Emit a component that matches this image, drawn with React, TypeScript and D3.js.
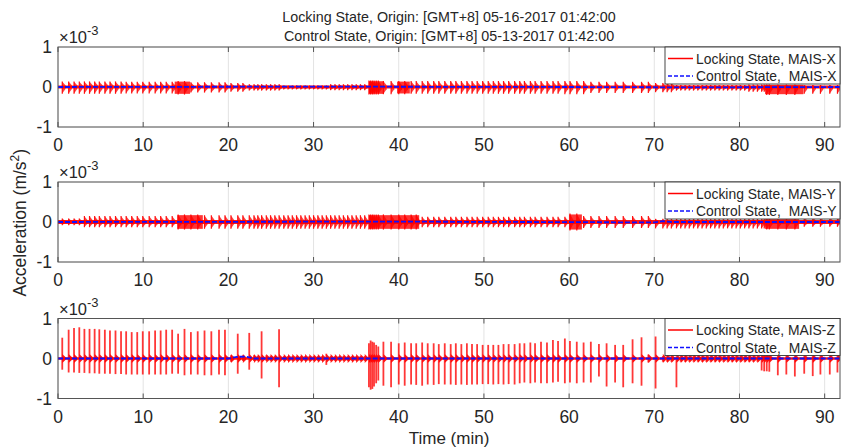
import React from "react";
import * as d3 from "d3";

// ---------------- data (units: 1e-3 m/s^2, time in minutes) ----------------
const titleLines = [
  "Locking State, Origin: [GMT+8] 05-16-2017 01:42:00",
  "Control State, Origin: [GMT+8] 05-13-2017 01:42:00",
];
const axisNames = ["X", "Y", "Z"];
const xTicks = [0, 10, 20, 30, 40, 50, 60, 70, 80, 90];
const yTicks = [-1, 0, 1];
const xMax = 91.8;

// impact events: [time, MAIS-Z peak up, MAIS-Z peak down]
const impacts: [number, number, number][] = [
  [0.5, 0.52, -0.28], [1.25, 0.72, -0.35], [1.88, 0.76, -0.35], [2.5, 0.78, -0.36],
  [3.1, 0.74, -0.36], [3.7, 0.74, -0.37], [4.3, 0.74, -0.37], [4.85, 0.73, -0.38],
  [5.5, 0.72, -0.38], [6.1, 0.7, -0.38], [6.75, 0.7, -0.39], [7.4, 0.68, -0.39],
  [8.0, 0.68, -0.4], [8.65, 0.66, -0.4], [9.3, 0.66, -0.4], [9.95, 0.68, -0.4],
  [10.7, 0.68, -0.4], [11.4, 0.7, -0.4], [12.05, 0.7, -0.4], [12.7, 0.72, -0.4],
  [13.4, 0.72, -0.38], [14.1, 0.62, -0.38], [14.85, 0.74, -0.42], [15.6, 0.66, -0.4],
  [16.4, 0.68, -0.4], [17.2, 0.7, -0.42], [18.0, 0.68, -0.42], [18.9, 0.72, -0.4],
  [19.6, 0.72, -0.42], [20.3, 0.08, -0.08], [21.1, 0.62, -0.38], [21.7, 0.08, -0.06],
  [22.45, 0.64, -0.28], [23.0, 0.08, -0.06], [23.45, 0.07, -0.06], [23.9, 0.68, -0.5],
  [24.45, 0.08, -0.06], [24.95, 0.07, -0.06], [25.45, 0.07, -0.06], [25.95, 0.73, -0.72],
  [26.5, 0.06, -0.06], [27.0, 0.06, -0.06], [27.5, 0.06, -0.06], [28.0, 0.06, -0.06],
  [28.5, 0.06, -0.06], [29.0, 0.06, -0.06], [29.5, 0.06, -0.06], [30.0, 0.06, -0.06],
  [30.5, 0.06, -0.06], [31.0, 0.06, -0.06], [31.5, 0.12, -0.16], [32.0, 0.06, -0.06],
  [32.5, 0.06, -0.06], [33.0, 0.06, -0.06], [33.5, 0.06, -0.06], [34.0, 0.06, -0.06],
  [34.5, 0.06, -0.06], [35.0, 0.06, -0.06], [35.5, 0.06, -0.06], [36.0, 0.06, -0.06],
  [36.5, 0.38, -0.72], [36.7, 0.45, -0.78], [36.9, 0.42, -0.76], [37.1, 0.4, -0.7],
  [37.35, 0.34, -0.62], [37.6, 0.3, -0.55],
  [38.2, 0.42, -0.68], [39.1, 0.42, -0.72], [40.0, 0.38, -0.65], [40.7, 0.4, -0.68],
  [41.45, 0.38, -0.65], [42.05, 0.38, -0.66], [42.75, 0.4, -0.68], [43.4, 0.38, -0.65],
  [44.1, 0.38, -0.66], [44.7, 0.36, -0.64], [45.4, 0.38, -0.65], [46.1, 0.36, -0.65],
  [46.7, 0.38, -0.66], [47.35, 0.36, -0.65], [48.0, 0.38, -0.66], [48.6, 0.36, -0.65],
  [49.2, 0.36, -0.65], [49.85, 0.34, -0.64], [50.5, 0.34, -0.64], [51.1, 0.34, -0.65],
  [51.7, 0.34, -0.64], [52.3, 0.36, -0.65], [52.9, 0.36, -0.64], [53.6, 0.36, -0.65],
  [54.2, 0.38, -0.62], [54.75, 0.38, -0.6], [55.45, 0.4, -0.62], [56.0, 0.38, -0.6],
  [56.7, 0.42, -0.62], [57.4, 0.4, -0.62], [58.1, 0.46, -0.6], [58.7, 0.44, -0.58],
  [59.5, 0.5, -0.62], [60.1, 0.44, -0.6], [60.9, 0.42, -0.62], [61.7, 0.4, -0.6],
  [62.55, 0.42, -0.6], [63.5, 0.36, -0.45], [64.4, 0.38, -0.7], [65.4, 0.34, -0.6],
  [66.35, 0.34, -0.72], [67.45, 0.48, -0.62], [68.5, 0.53, -0.68], [69.3, 0.1, -0.1],
  [70.15, 0.55, -0.75], [71.0, 0.06, -0.08], [71.5, 0.06, -0.08], [72.0, 0.06, -0.08],
  [72.6, 0.05, -0.72], [73.1, 0.06, -0.08], [73.6, 0.06, -0.08], [74.1, 0.06, -0.08],
  [74.6, 0.06, -0.08], [75.1, 0.06, -0.08], [75.6, 0.06, -0.08], [76.1, 0.06, -0.08],
  [76.6, 0.06, -0.08], [77.1, 0.06, -0.08], [77.6, 0.06, -0.08], [78.1, 0.06, -0.08],
  [78.6, 0.06, -0.08], [79.1, 0.06, -0.08], [79.6, 0.06, -0.08], [80.1, 0.06, -0.08],
  [80.6, 0.06, -0.08], [81.1, 0.06, -0.08], [81.6, 0.06, -0.08], [82.1, 0.06, -0.08],
  [82.6, 0.08, -0.3], [82.9, 0.08, -0.32], [83.2, 0.08, -0.32], [83.5, 0.08, -0.33],
  [84.5, 0.06, -0.42], [85.5, 0.06, -0.4], [86.5, 0.06, -0.45], [87.6, 0.06, -0.38],
  [88.6, 0.06, -0.44], [89.5, 0.06, -0.4], [90.6, 0.06, -0.4], [91.5, 0.06, -0.35],
];

// envelope segments for MAIS-X / MAIS-Y: [t0, t1, up, down, dense]
const xSegments: [number, number, number, number, number][] = [
  [0, 7.5, 0.14, -0.17, 0], [7.5, 13.7, 0.13, -0.16, 0], [13.7, 15.5, 0.15, -0.19, 1],
  [15.5, 20.2, 0.12, -0.14, 0], [20.2, 22.3, 0.1, -0.12, 0], [22.3, 26.2, 0.07, -0.09, 0],
  [26.2, 32, 0.04, -0.06, 0], [32, 36.5, 0.07, -0.08, 0], [36.5, 38.2, 0.16, -0.19, 1],
  [38.2, 39.8, 0.15, -0.18, 0], [39.8, 41.3, 0.15, -0.18, 1], [41.3, 59.4, 0.15, -0.17, 0],
  [59.4, 62.4, 0.15, -0.18, 0], [62.4, 69.4, 0.13, -0.15, 0], [69.4, 72.4, 0.1, -0.13, 0],
  [72.4, 81, 0.05, -0.09, 0], [81, 83, 0.06, -0.12, 0], [83, 87.5, 0.06, -0.2, 1],
  [87.5, 92, 0.05, -0.17, 0],
];
const ySegments: [number, number, number, number, number][] = [
  [0, 3, 0.09, -0.08, 0], [3, 14, 0.15, -0.13, 0], [14, 17, 0.19, -0.19, 1],
  [17, 36.5, 0.17, -0.17, 0], [36.5, 42.4, 0.19, -0.19, 1], [42.4, 60, 0.13, -0.13, 0],
  [60, 61.5, 0.21, -0.21, 1], [61.5, 69.8, 0.15, -0.15, 0], [69.8, 83, 0.08, -0.16, 0],
  [83, 87, 0.08, -0.19, 1], [87, 92, 0.12, -0.12, 0],
];
const baseNoise = [0.04, 0.05, 0.03];

// control-state traces: [time, value]
const ctrlX: [number, number][] = [[0, 0], [30, 0.01], [60, 0], [75, -0.01], [91.8, 0]];
const ctrlY: [number, number][] = [[0, 0], [40, 0.01], [70, -0.01], [71, 0.02], [72, 0], [91.8, 0]];
const ctrlZ: [number, number][] = [[0, 0], [20, 0], [21, 0.04], [22, 0.05], [23, 0], [91.8, 0]];

// ---------------- layout ----------------
const W = 842, H = 448;
const L = 58, R = 840;
const panelTops = [47, 182, 318.5];
const PH = 80;
const FONT = "'Liberation Sans', Arial, Helvetica, sans-serif";
const RED = "#ff0000";
const BLUE = "#1010ff";
const TXT = "#262626";

function T({ x, y, size, anchor = "start", children, sy = 1 }: any) {
  return (
    <text transform={`translate(${x},${y}) scale(1,${sy})`} textAnchor={anchor}
      fontSize={size} fill={TXT} style={{ whiteSpace: "pre" }}>
      {children}
    </text>
  );
}

function Panel({ p }: { p: number }) {
  const top = panelTops[p];
  const x = d3.scaleLinear().domain([0, xMax]).range([L, R]);
  const y = d3.scaleLinear().domain([-1, 1]).range([top + PH, top]);
  const segs = p === 0 ? xSegments : p === 1 ? ySegments : null;
  const ctrl = [ctrlX, ctrlY, ctrlZ][p];
  const clipId = `clip${p}`;
  const line = d3.line<[number, number]>().x((d) => x(d[0])).y((d) => y(d[1]));
  const band = d3
    .area<number>()
    .x((d) => x(d))
    .y0(y(-baseNoise[p]))
    .y1(y(baseNoise[p]));
  const marks: React.ReactNode[] = [];
  if (segs) {
    const tw = 0.38;
    segs.forEach((s, i) => {
      if (s[4]) {
        marks.push(
          <rect key={`d${i}`} x={x(s[0])} width={x(s[1]) - x(s[0])} y={y(s[2] * 0.9)}
            height={y(s[3] * 0.9) - y(s[2] * 0.9)} fill={RED} opacity={0.8} />
        );
      }
    });
    impacts.forEach((e, i) => {
      const t = e[0];
      const s = segs.find((g) => t >= g[0] && t < g[1]) || segs[segs.length - 1];
      const up = s[2], dn = s[3];
      const pts = [
        [x(t), y(up * 0.95)], [x(t + tw), y(up * 0.3)], [x(t + tw), y(dn * 0.3)], [x(t), y(dn * 0.95)],
      ].map((q) => q.join(",")).join(" ");
      marks.push(<polygon key={`a${i}`} points={pts} fill={RED} opacity={0.75} />);
      marks.push(
        <line key={`l${i}`} x1={x(t)} x2={x(t)} y1={y(up)} y2={y(dn)} stroke={RED} strokeWidth={1.2} opacity={0.9} />
      );
    });
  } else {
    const tw = 0.4;
    impacts.forEach((e, i) => {
      const [t, up, dn] = e;
      const pts = [
        [x(t), y(0.11)], [x(t + tw), y(0.03)], [x(t + tw), y(-0.03)], [x(t), y(-0.11)],
      ].map((q) => q.join(",")).join(" ");
      marks.push(<polygon key={`a${i}`} points={pts} fill={RED} opacity={0.9} />);
      marks.push(
        <line key={`l${i}`} x1={x(t)} x2={x(t)} y1={y(up)} y2={y(dn)} stroke={RED}
          strokeWidth={1.8} opacity={0.78} />
      );
    });
  }
  const legTop = top;
  const legL = 665;
  return (
    <g>
      <defs>
        <clipPath id={clipId}>
          <rect x={L} y={top} width={R - L} height={PH} />
        </clipPath>
      </defs>
      {xTicks.map((t) => (
        <line key={`g${t}`} x1={x(t)} x2={x(t)} y1={top} y2={top + PH} stroke="#e3e3e3" strokeWidth={1} />
      ))}
      {yTicks.map((v) => (
        <line key={`gy${v}`} x1={L} x2={R} y1={y(v)} y2={y(v)} stroke="#e3e3e3" strokeWidth={1} />
      ))}
      <g clipPath={`url(#${clipId})`}>
        <path d={band(x.domain()) || ""} fill={RED} opacity={0.9} />
        {marks}
        <path d={line(ctrl) || ""} fill="none" stroke={BLUE} strokeWidth={1.8} strokeDasharray="5 2" />
      </g>
      <rect x={L} y={top} width={R - L} height={PH} fill="none" stroke="#555" strokeWidth={1} />
      {xTicks.map((t) => (
        <g key={`t${t}`}>
          <line x1={x(t)} x2={x(t)} y1={top} y2={top + 5} stroke="#555" />
          <line x1={x(t)} x2={x(t)} y1={top + PH} y2={top + PH - 5} stroke="#555" />
          <T x={x(t)} y={top + PH + 24} size={17.5} anchor="middle">{String(t)}</T>
        </g>
      ))}
      {yTicks.map((v) => (
        <T key={`yt${v}`} x={52} y={y(v) + 6.2} size={17.5} anchor="end">{String(v)}</T>
      ))}
      <T x={59} y={top - 4} size={16.5}>
        ×10<tspan fontSize={13} dy={-8}>-3</tspan>
      </T>
      <rect x={legL} y={legTop} width={R - legL} height={37} fill="white" stroke="#333" strokeWidth={0.9} />
      <line x1={legL + 3} x2={legL + 28} y1={legTop + 11.5} y2={legTop + 11.5} stroke={RED} strokeWidth={1.5} />
      <T x={legL + 31} y={legTop + 16.5} size={13.9} sy={1.12}>{`Locking State, MAIS-${axisNames[p]}`}</T>
      <line x1={legL + 3} x2={legL + 28} y1={legTop + 29} y2={legTop + 29} stroke={BLUE}
        strokeWidth={1.5} strokeDasharray="4 2" />
      <T x={legL + 31} y={legTop + 34} size={13.9} sy={1.12}>{`Control State,  MAIS-${axisNames[p]}`}</T>
    </g>
  );
}

export default function App() {
  const yMid = (panelTops[0] + panelTops[2] + PH) / 2;
  return (
    <svg width={W} height={H} fontFamily={FONT}
      style={{ position: "fixed", left: 0, top: 0, display: "block", background: "white" }}>
      <rect width={W} height={H} fill="white" />
      <T x={(L + R) / 2} y={22.3} size={14.3} anchor="middle" sy={1.05}>{titleLines[0]}</T>
      <T x={(L + R) / 2} y={41.3} size={14.3} anchor="middle" sy={1.05}>{titleLines[1]}</T>
      {[0, 1, 2].map((p) => <Panel key={p} p={p} />)}
      <T x={(L + R) / 2} y={443.5} size={17} anchor="middle">Time (min)</T>
      <text transform={`translate(26,${yMid}) rotate(-90)`}
        textAnchor="middle" fontSize={17.5} fill={TXT}>
        Acceleration (m/s<tspan dy={-7} fontSize={12}>2</tspan><tspan dy={7}>)</tspan>
      </text>
    </svg>
  );
}
